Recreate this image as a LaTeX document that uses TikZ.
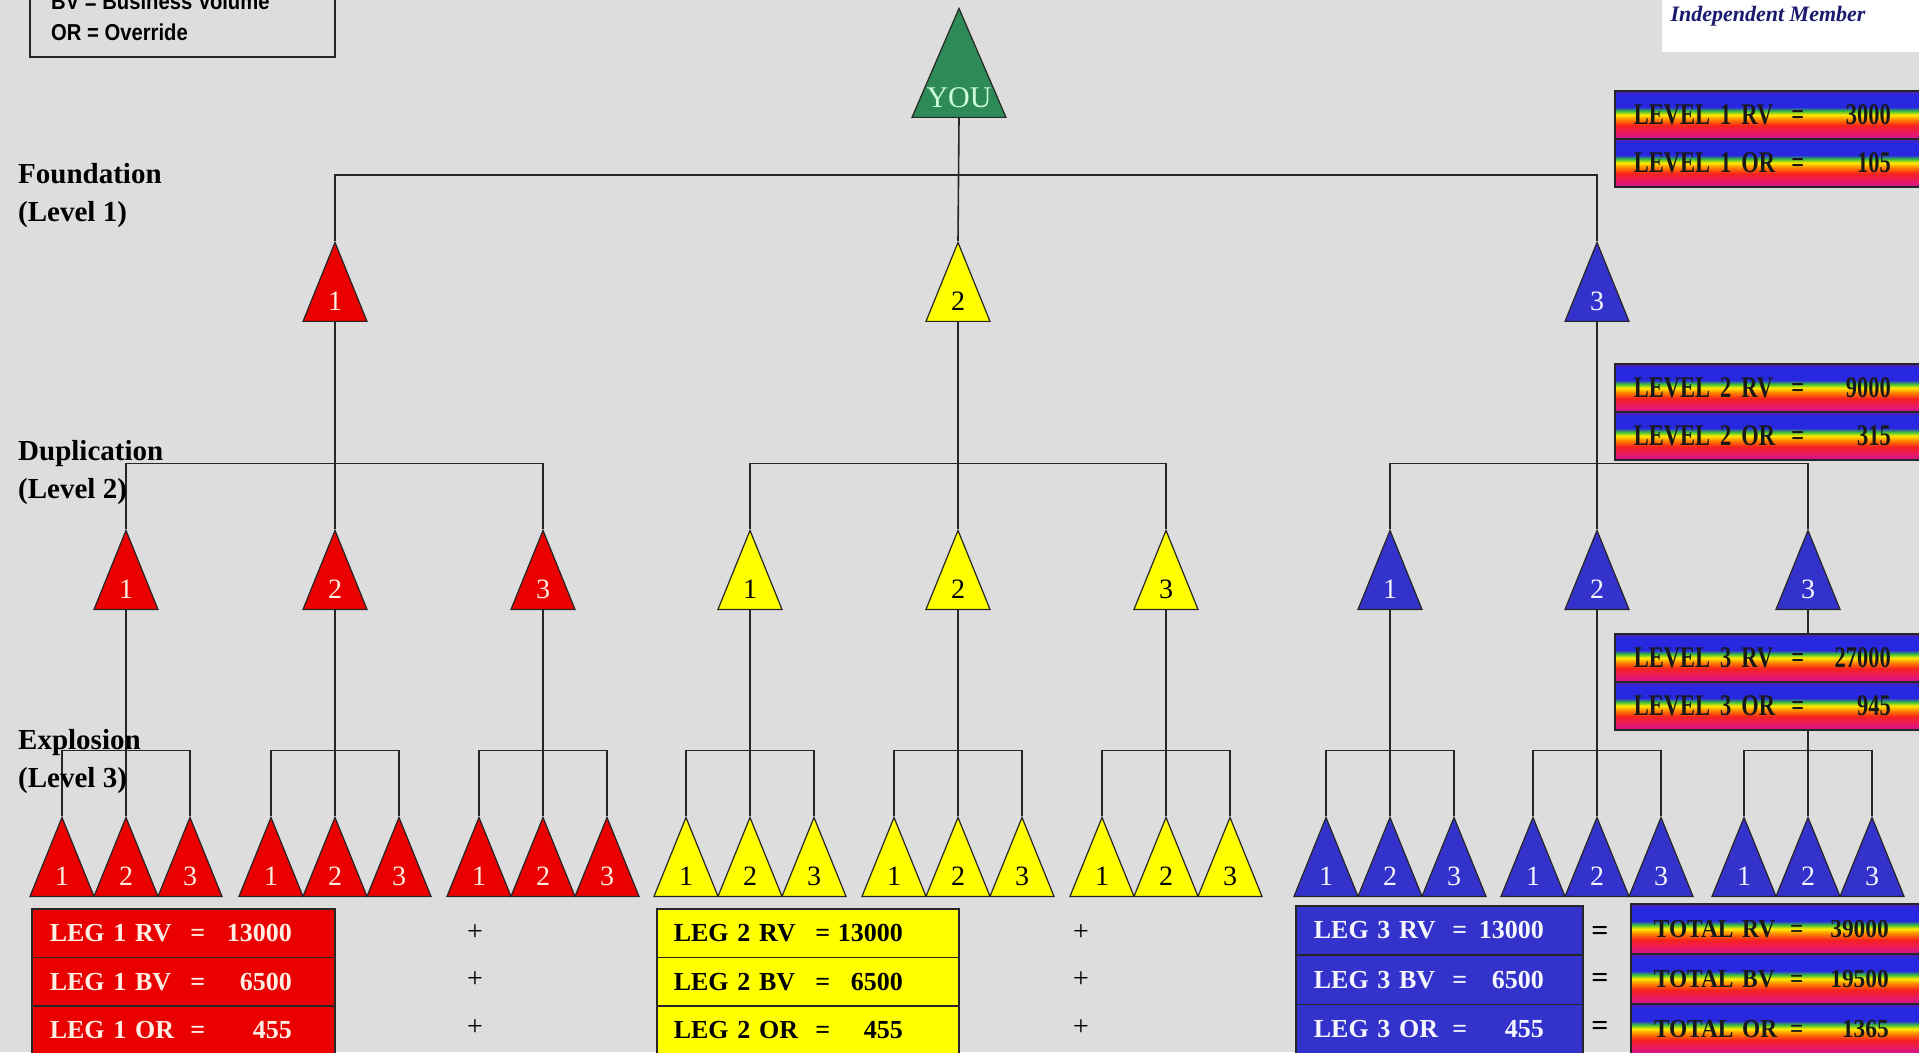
\documentclass[tikz,border=0pt]{standalone}
\usepackage{fontspec}
\setmainfont{Liberation Serif}
\newfontfamily\legfont[FakeStretch=0.88]{Liberation Sans}
\newfontfamily\rbfont[FakeStretch=0.75]{Liberation Serif}
\newfontfamily\totfont[FakeStretch=0.9]{Liberation Serif}
\usetikzlibrary{shapes.geometric}

\definecolor{bgc}{RGB}{221,221,221}
\definecolor{redc}{RGB}{235,0,0}
\definecolor{yelc}{RGB}{255,255,0}
\definecolor{bluc}{RGB}{51,51,204}
\definecolor{grnc}{RGB}{46,139,87}
\definecolor{pale}{RGB}{255,238,228}
\definecolor{palb}{RGB}{245,245,255}
\definecolor{mint}{RGB}{205,255,215}
\definecolor{navy}{RGB}{25,25,110}
\definecolor{rbm}{RGB}{200,20,150}
\definecolor{rbp}{RGB}{235,25,100}
\definecolor{rbr}{RGB}{245,35,30}
\definecolor{rbo}{RGB}{255,130,0}
\definecolor{rby}{RGB}{255,235,0}
\definecolor{rbg}{RGB}{60,190,60}
\definecolor{rbb}{RGB}{40,40,225}
\definecolor{rbv}{RGB}{90,30,170}

\pgfdeclareverticalshading{rainbow}{100bp}{color(0bp)=(rbm); color(25bp)=(rbm); color(31bp)=(rbp); color(39bp)=(rbr); color(45bp)=(rbo); color(50bp)=(rby); color(54bp)=(rbg); color(58bp)=(rbb); color(71bp)=(rbb); color(75bp)=(rbv); color(100bp)=(rbv)}

\newcommand{\rowtext}[4]{\makebox[#1][l]{#2}\makebox[34pt]{=}\makebox[#3][r]{#4}}

\tikzstyle{tri} = [isosceles triangle, isosceles triangle stretches, shape border rotate=90, minimum width=64pt, minimum height=79pt, inner sep=0pt, anchor=south, draw=black!85, line width=1.2pt]
\tikzstyle{num} = [anchor=center, yshift=21pt, inner sep=0pt, font=\fontsize{28}{28}\selectfont]
\tikzstyle{younum} = [anchor=center, yshift=20pt, inner sep=0pt, text=mint, font=\fontsize{30}{30}\selectfont]
\tikzstyle{wire} = [draw=black!85, line width=1.6pt]
\tikzstyle{row} = [rectangle, draw=black!85, line width=1.6pt, anchor=north west, inner ysep=0pt, align=left, font=\bfseries\fontsize{26}{26}\selectfont]
\tikzstyle{redrow} = [row, fill=redc, text=pale, minimum height=48.5pt, inner xsep=18pt, text width=267pt]
\tikzstyle{yelrow} = [row, fill=yelc, text=black, minimum height=48.5pt, inner xsep=17pt, text width=268pt]
\tikzstyle{blurow} = [row, fill=bluc, text=palb, minimum height=49.3pt, inner xsep=18pt, text width=251pt]
\tikzstyle{lvlrow} = [row, shading=rainbow, text=black!90, minimum height=48pt, inner xsep=19pt, text width=282pt, font=\rbfont\bfseries\fontsize{30}{30}\selectfont]
\tikzstyle{totrow} = [row, shading=rainbow, text=black!90, minimum height=50pt, inner xsep=23pt, text width=258pt, font=\totfont\bfseries\fontsize{26}{26}\selectfont]
\tikzstyle{lvl} = [anchor=west, align=left, inner sep=0pt, font=\bfseries\fontsize{29}{38}\selectfont]
\tikzstyle{sign} = [inner sep=0pt, font=\fontsize{28}{28}\selectfont]
\tikzstyle{eqsign} = [inner sep=0pt, font=\bfseries\fontsize{30}{30}\selectfont]

\begin{document}
\begin{tikzpicture}[x=1pt,y=-1pt]
        \useasboundingbox (0,0) rectangle (1919,1052);
        \fill[bgc] (0,0) rectangle (1919,1052);
        \clip (0,0) rectangle (1919,1052);
        % legend and logo
        \draw[draw=black!85,line width=2pt] (30,-40) rectangle (335,57);
        \node[anchor=west,align=left,inner sep=0pt,font=\legfont\bfseries\fontsize{23}{31}\selectfont] (legend) at (51,17) {BV = Business Volume\\OR = Override};
        \fill[white] (1662,-10) rectangle (1930,52);
        \node[text=navy,font=\bfseries\itshape\fontsize{22}{22}\selectfont] (logo) at (1768,16) {Independent Member};
        % you and levels 1, 2
        \node[tri,fill=grnc,minimum width=94pt,minimum height=109pt,label={[younum]south:YOU}](you) at (959,118){};
        \node[tri,fill=redc,label={[num,text=pale]south:1}](r) at (335,322){};
        \node[tri,fill=yelc,label={[num]south:2}](y) at (958,322){};
        \node[tri,fill=bluc,label={[num,text=palb]south:3}](b) at (1597,322){};
        \node[tri,fill=redc,label={[num,text=pale]south:1}](r1) at (126,610){};
        \node[tri,fill=redc,label={[num,text=pale]south:2}](r2) at (335,610){};
        \node[tri,fill=redc,label={[num,text=pale]south:3}](r3) at (543,610){};
        \node[tri,fill=yelc,label={[num]south:1}](y1) at (750,610){};
        \node[tri,fill=yelc,label={[num]south:2}](y2) at (958,610){};
        \node[tri,fill=yelc,label={[num]south:3}](y3) at (1166,610){};
        \node[tri,fill=bluc,label={[num,text=palb]south:1}](b1) at (1390,610){};
        \node[tri,fill=bluc,label={[num,text=palb]south:2}](b2) at (1597,610){};
        \node[tri,fill=bluc,label={[num,text=palb]south:3}](b3) at (1808,610){};
        % level 3
        \foreach \p/\x/\c/\t in {r1/126/redc/pale, r2/335/redc/pale, r3/543/redc/pale, y1/750/yelc/black, y2/958/yelc/black, y3/1166/yelc/black, b1/1390/bluc/palb, b2/1597/bluc/palb, b3/1808/bluc/palb}{
          \node[tri,fill=\c,label={[num,text=\t]south:1}](\p1) at (\x-64,897){};
          \node[tri,fill=\c,label={[num,text=\t]south:2}](\p2) at (\x,897){};
          \node[tri,fill=\c,label={[num,text=\t]south:3}](\p3) at (\x+64,897){};
        }
        \draw[wire](you.south)--(y.north);
        \draw[wire](r.north)--++(0,-66)-|(b.north);
        \foreach \p in {r,y,b,r1,r2,r3,y1,y2,y3,b1,b2,b3}{
          \draw[wire](\p.south)--(\p2.north);
          \draw[wire](\p1.north)--++(0,-65.5)-|(\p3.north);
        }
        % level totals
        \node[lvlrow](l1rv) at (1614,90){\rowtext{147pt}{LEVEL 1 RV}{76pt}{3000}};
        \node[lvlrow](l1or) at (1614,138){\rowtext{147pt}{LEVEL 1 OR}{76pt}{105}};
        \node[lvlrow](l2rv) at (1614,363){\rowtext{147pt}{LEVEL 2 RV}{76pt}{9000}};
        \node[lvlrow](l2or) at (1614,411){\rowtext{147pt}{LEVEL 2 OR}{76pt}{315}};
        \node[lvlrow](l3rv) at (1614,633){\rowtext{147pt}{LEVEL 3 RV}{76pt}{27000}};
        \node[lvlrow](l3or) at (1614,681){\rowtext{147pt}{LEVEL 3 OR}{76pt}{945}};
        % legs
        \node[redrow](g1rv) at (31,908){\rowtext{131pt}{LEG 1 RV}{77pt}{13000}};
        \node[redrow](g1bv) at (31,956.5){\rowtext{131pt}{LEG 1 BV}{77pt}{6500}};
        \node[redrow](g1or) at (31,1005){\rowtext{131pt}{LEG 1 OR}{77pt}{455}};
        \node[yelrow](g2rv) at (656,908){\rowtext{132pt}{LEG 2 RV}{63pt}{13000}};
        \node[yelrow](g2bv) at (656,956.5){\rowtext{132pt}{LEG 2 BV}{63pt}{6500}};
        \node[yelrow](g2or) at (656,1005){\rowtext{132pt}{LEG 2 OR}{63pt}{455}};
        \node[blurow](g3rv) at (1295,905){\rowtext{129pt}{LEG 3 RV}{67pt}{13000}};
        \node[blurow](g3bv) at (1295,954.3){\rowtext{129pt}{LEG 3 BV}{67pt}{6500}};
        \node[blurow](g3or) at (1295,1003.6){\rowtext{129pt}{LEG 3 OR}{67pt}{455}};
        \node[totrow](trv) at (1630,903){\rowtext{126pt}{TOTAL RV}{75pt}{39000}};
        \node[totrow](tbv) at (1630,953){\rowtext{126pt}{TOTAL BV}{75pt}{19500}};
        \node[totrow](tor) at (1630,1003){\rowtext{126pt}{TOTAL OR}{75pt}{1365}};
        \node[sign](p1) at (475,933){+};
        \node[sign](p2) at (475,980){+};
        \node[sign](p3) at (475,1028){+};
        \node[sign](p4) at (1081,933){+};
        \node[sign](p5) at (1081,980){+};
        \node[sign](p6) at (1081,1028){+};
        \node[eqsign](e1) at (1600,933){=};
        \node[eqsign](e2) at (1600,980){=};
        \node[eqsign](e3) at (1600,1028){=};
        % level names
        \node[lvl](found) at (18,196){Foundation\\(Level 1)};
        \node[lvl](dupl) at (18,473){Duplication\\(Level 2)};
        \node[lvl](expl) at (18,762){Explosion\\(Level 3)};
      \end{tikzpicture}
\end{document}
